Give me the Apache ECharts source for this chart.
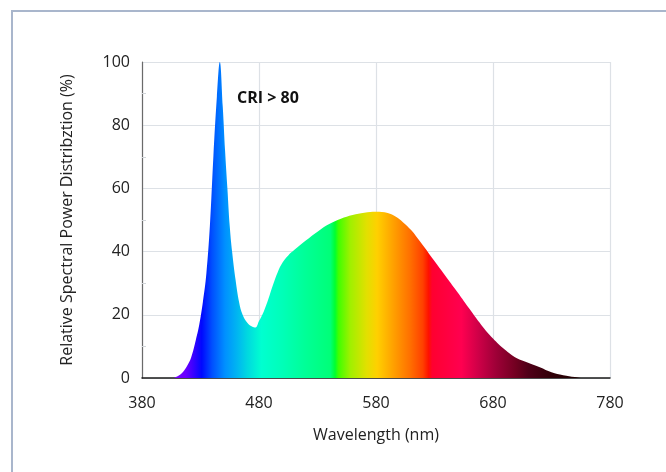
<!DOCTYPE html>
<html>
<head>
<meta charset="utf-8">
<script src="https://cdn.jsdelivr.net/npm/echarts@6/dist/echarts.min.js"></script>
<style>
html,body{margin:0;padding:0;background:#fff;}
#c{width:666px;height:472px;}
</style>
</head>
<body>
<div id="c"></div>
<script>
// Data (wavelength in nm, relative power in %)
var wavelengths = [380,400,406,410,414,418,422,426,429,432,435,438,441,444,446.5,449,451,453,455,457,460,463,466,470,474,477,480,484,488,492,496,500,505,510,520,530,540,550,560,570,580,590,597,603,610,618,625,632,640,650,660,670,680,690,700,710,720,730,740,750,755,780];
var power =       [0,  0,  0,  0.5,1.5,3.5,6.5,12, 17, 24, 33, 48, 70, 89, 100,  86, 72, 60, 48, 40, 31, 24, 20, 17.5,16.3,16, 18, 21, 25, 29.5,33.5,36.5,38.8,40.5,43.5,46.3,48.7,50.4,51.6,52.3,52.6,52.2,51, 49.3,46.8,43, 39.5,36, 32, 27, 21.8,16.8,12.5,9, 6.3,4.8,3.4,1.8,0.9,0.3,0, 0];
var xTicks = [380,480,580,680,780];
var yTicks = [0,20,40,60,80,100];
var annotation = 'CRI > 80';
var xName = 'Wavelength (nm)';
var yName = 'Relative Spectral Power Distribztion (%)';

// spectral colour stops (nm, colour)
var spectrumNm =    [405,417,422,431,440,451,462,470,482,500,519,541,545,548,558,572,581,595,609,620,625,628,653,667,682,700,710,730,755];
var spectrumColor = ['#7a00ff','#6a00ff','#4800ff','#0008ff','#0050ff','#0090ff','#00b8f0','#00d8e0','#00ffd0','#00ffb8','#00ff98','#00ff78','#00ff30','#40ff00','#a0f000','#e2e000','#ffd000','#ffa000','#ff7000','#ff4000','#ff1000','#ff0030','#ff0050','#d00048','#a00038','#700020','#500018','#300008','#1e0000'];

var xMin = 380, xMax = 780;
var stops = spectrumNm.map(function(nm, i){
  return {offset: (nm - xMin) / (xMax - xMin), color: spectrumColor[i]};
});

var chart = echarts.init(document.getElementById('c'));
var FONT = '"Open Sans", "Noto Sans", sans-serif';
chart.setOption({
  animation: false,
  backgroundColor: '#fff',
  grid: {left: 142, right: 56, top: 62, bottom: 94},
  xAxis: {
    type: 'value', min: xMin, max: xMax, interval: 100,
    name: xName, nameLocation: 'middle', nameGap: 49,
    nameTextStyle: {fontSize: 16, color: '#222', fontFamily: FONT},
    axisLine: {show: true, onZero: false, lineStyle: {color: '#1a1a1a', width: 1.5}},
    axisTick: {show: false},
    axisLabel: {fontSize: 16, color: '#222', margin: 17, fontFamily: FONT,
      formatter: function(v){ return xTicks.indexOf(v) >= 0 ? String(v) : ''; }},
    splitLine: {show: true, lineStyle: {color: '#dde1e6', width: 1.2}}
  },
  yAxis: {
    type: 'value', min: 0, max: 100, interval: 20,
    name: yName, nameLocation: 'middle', nameGap: 67,
    nameTextStyle: {fontSize: 16, color: '#222', fontFamily: FONT},
    axisLine: {show: true, lineStyle: {color: '#6a6a6a', width: 1.2}},
    axisTick: {show: false},
    minorTick: {show: true, splitNumber: 2, length: -4, lineStyle: {color: '#d0d4d8'}},
    axisLabel: {fontSize: 16, color: '#222', margin: 12, fontFamily: FONT,
      formatter: function(v){ return yTicks.indexOf(v) >= 0 ? String(v) : ''; }},
    splitLine: {show: true, lineStyle: {color: '#dde1e6', width: 1.2}}
  },
  graphic: [
    {type: 'rect', z: 0, silent: true,
     shape: {x: 12, y: 11, width: 720, height: 520},
     style: {fill: 'none', stroke: '#a9b6cc', lineWidth: 2}},
    {type: 'text', left: 237, top: 90, z: 10,
     style: {text: annotation, fontSize: 16, fontWeight: 'bold', fill: '#111', fontFamily: FONT}}
  ],
  series: [{
    type: 'line',
    data: wavelengths.map(function(w, i){ return [w, power[i]]; }),
    smooth: 0.4,
    showSymbol: false,
    sampling: null,
    lineStyle: {width: 0},
    areaStyle: {
      opacity: 1,
      color: new echarts.graphic.LinearGradient(0, 0, 1, 0, stops)
    },
    z: 1
  }]
});
</script>
</body>
</html>
